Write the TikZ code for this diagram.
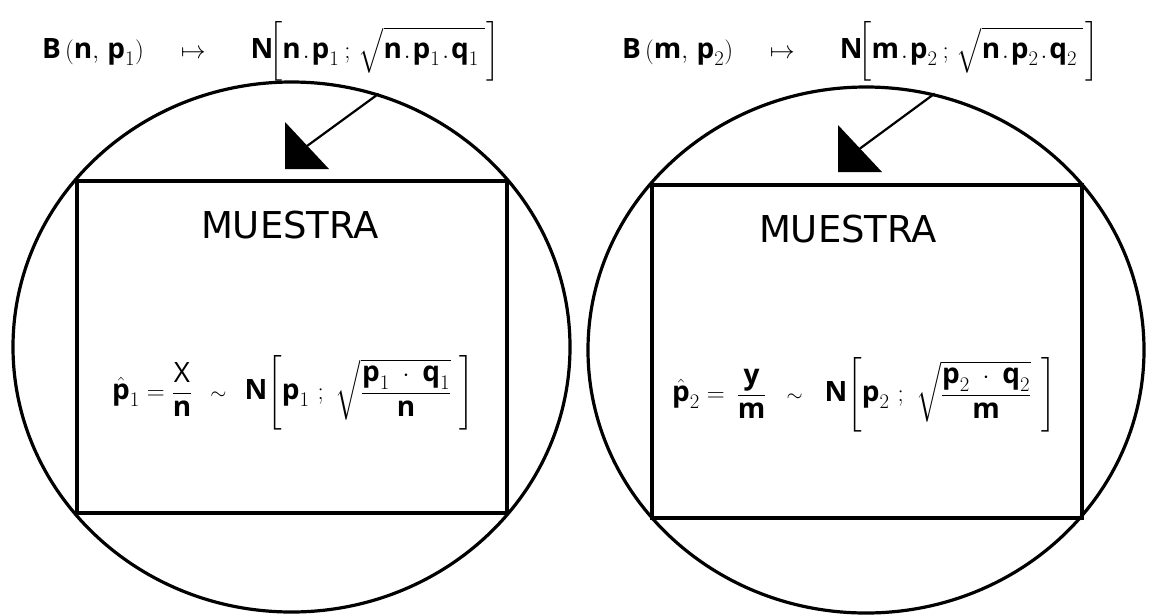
\documentclass[tikz,border=0pt]{standalone}
\usepackage{amsmath}
\usepackage{fontspec}
\setmainfont{Open Sans}
\newfontfamily\labelfont{DejaVu Sans}
\usetikzlibrary{shapes.geometric}
\newcommand\vb[1]{\textbf{#1}}
\newcommand\gap[1]{\hspace{#1pt}}
\begin{document}
\begin{tikzpicture}[x=1pt,y=-1pt,
  circ/.style={ellipse,draw,line width=3.2pt,inner sep=0pt},
  box/.style={rectangle,draw,line width=3.2pt,inner sep=0pt,minimum width=430pt},
  link/.style={line width=2.2pt},
  title/.style={font=\fontsize{28}{34}\selectfont,inner sep=0pt,anchor=base west},
  label/.style={font=\labelfont\fontsize{37}{42}\selectfont,inner sep=0pt},
  formula/.style={font=\fontsize{28}{32}\selectfont,inner sep=0pt,anchor=west}]
\useasboundingbox (0,0) rectangle (1153,614);
% left
\node[circ,minimum width=557pt,minimum height=530pt] (c1) at (291.5,347) {};
\node[box,minimum height=332pt] (r1) at (292,347) {};
\node[title] (t1) at (42,58) {$\vb{B}\,(\vb{n},\,\vb{p}_1)\gap{30}\mapsto\gap{38}\vb{N}\!\bigg[\vb{n}\gap{2}.\gap{2}\vb{p}_1\gap{5};\gap{4}\sqrt{\vphantom{\big|}\vb{n}\gap{2}.\gap{2}\vb{p}_1\gap{2}.\gap{2}\vb{q}_1\gap{6}}\gap{2}\bigg]$};
\node[label] (m1) at (290,225) {MUESTRA};
\node[formula] (f1) at (112,393) {$\hat{\vb{p}}_1=\dfrac{\text{X}}{\vb{n}}\gap{18}{\scriptstyle\sim}\gap{18}\vb{N}\!\left[\vb{p}_1\gap{8};\gap{8}\sqrt{\dfrac{\vb{p}_1\ \cdot\ \vb{q}_1}{\vb{n}}}\gap{8}\right]$};
\coordinate (a1) at (307,146);
\fill (285,122) -- (285,169) -- (329,169) -- cycle;
\draw[link] (c1.71) -- (a1);
% right
\node[circ,minimum width=556pt,minimum height=526pt] (c2) at (866,350) {};
\node[box,minimum height=333pt] (r2) at (867,351.5) {};
\node[title] (t2) at (622,58) {$\vb{B}\,(\vb{m},\,\vb{p}_2)\gap{30}\mapsto\gap{38}\vb{N}\!\bigg[\vb{m}\gap{2}.\gap{2}\vb{p}_2\gap{5};\gap{4}\sqrt{\vphantom{\big|}\vb{n}\gap{2}.\gap{2}\vb{p}_2\gap{2}.\gap{2}\vb{q}_2\gap{6}}\gap{2}\bigg]$};
\node[label] (m2) at (848,229) {MUESTRA};
\node[formula] (f2) at (672,395) {$\hat{\vb{p}}_2=\gap{5}\dfrac{\vb{y}}{\vb{m}}\gap{20}{\scriptstyle\sim}\gap{22}\vb{N}\!\left[\vb{p}_2\gap{8};\gap{8}\sqrt{\dfrac{\vb{p}_2\ \cdot\ \vb{q}_2}{\vb{m}}}\gap{10}\right]$};
\coordinate (a2) at (860,148.5);
\fill (838,125) -- (838,172) -- (882,172) -- cycle;
\draw[link] (c2.75) -- (a2);
\end{tikzpicture}
\end{document}
